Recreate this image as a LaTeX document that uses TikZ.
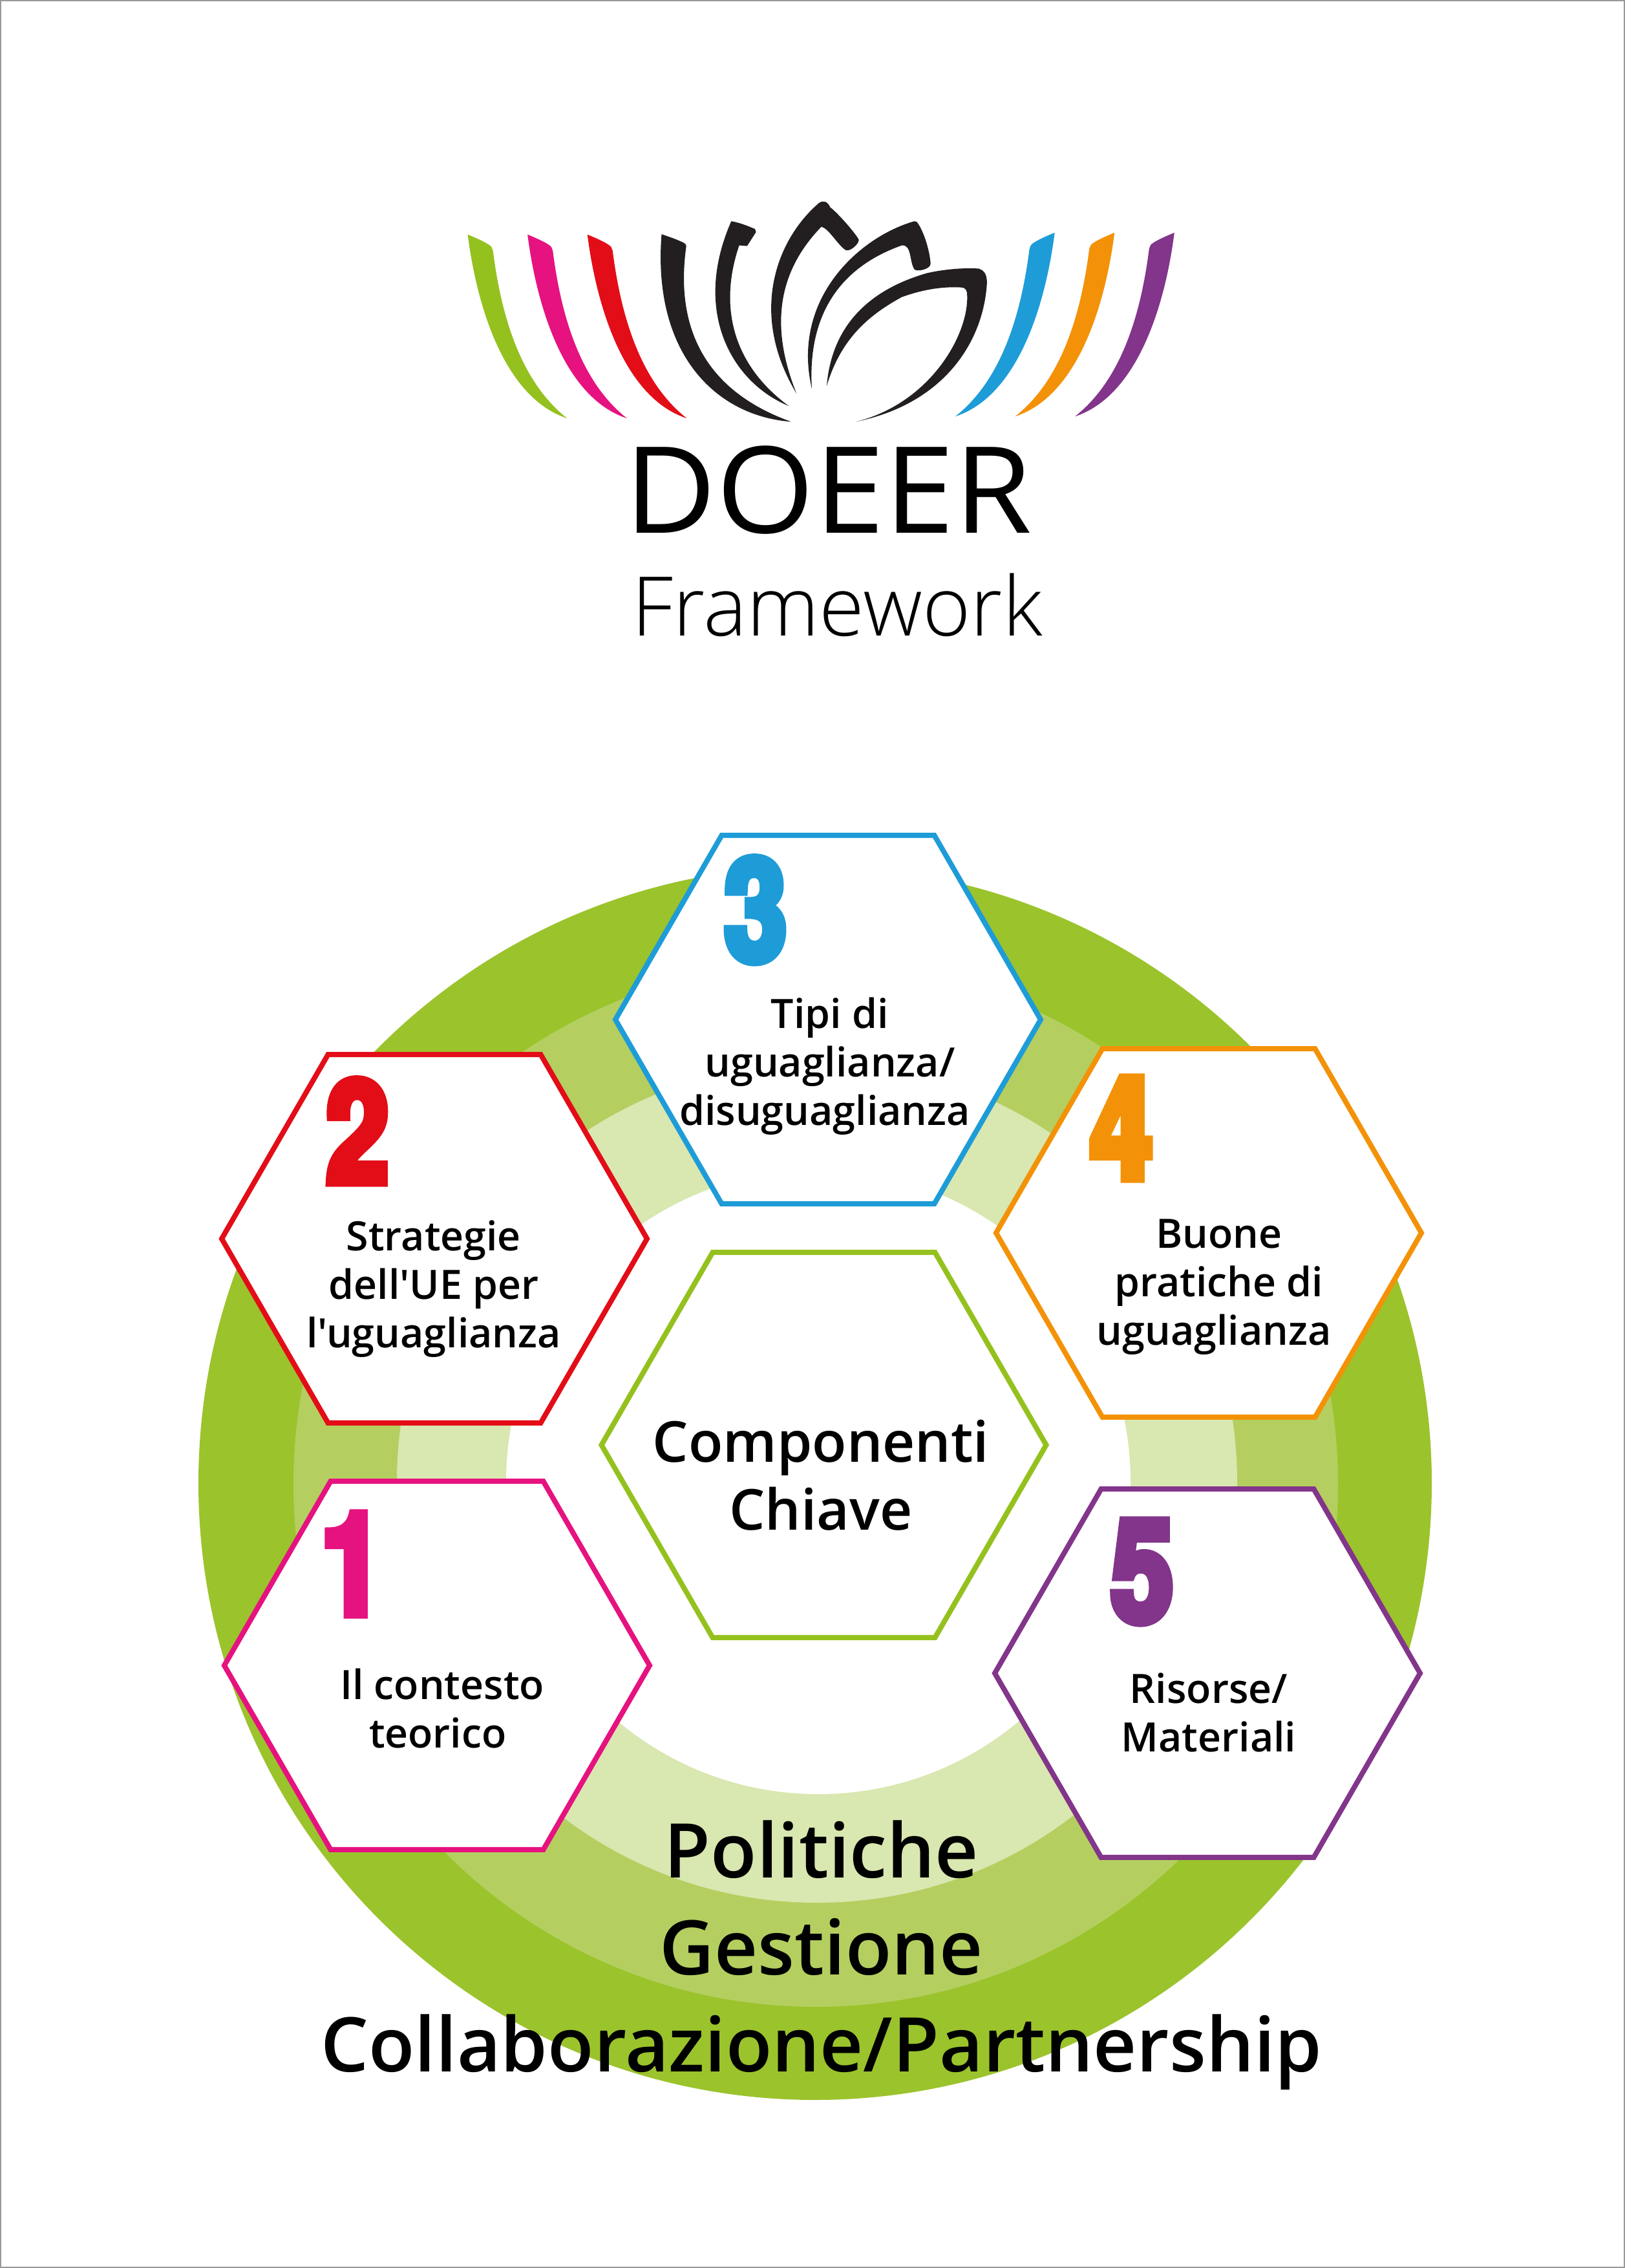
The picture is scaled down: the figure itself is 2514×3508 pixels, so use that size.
\documentclass[tikz,border=0pt]{standalone}
\usepackage{fontspec}
\usetikzlibrary{shapes.geometric}
\setmainfont{Open Sans}
\newfontfamily\semi[BoldFont={* Semibold}]{Open Sans}
\newfontfamily\lightf{Open Sans Light}
\newfontfamily\doeerf[FakeStretch=1.046]{Open Sans}
\newfontfamily\numf[FakeBold=6,FakeStretch=0.78]{TeX Gyre Heros Bold}
\definecolor{ringA}{HTML}{9BC32C}
\definecolor{ringB}{HTML}{B4CF60}
\definecolor{ringC}{HTML}{D9E7B0}
\definecolor{cgreen}{HTML}{95C11F}
\definecolor{cpink}{HTML}{E6127F}
\definecolor{cred}{HTML}{E30D18}
\definecolor{cblue}{HTML}{1E9CD8}
\definecolor{corange}{HTML}{F39208}
\definecolor{cpurple}{HTML}{82358A}
\definecolor{logoblack}{HTML}{231F20}
\tikzset{
  hexbox/.style={regular polygon,regular polygon sides=6,minimum size=329pt,inner sep=0pt,fill=white,line width=4pt},
  label/.style={anchor=base,align=center,font=\fontsize{31.3}{37.5}\selectfont\bfseries\semi},
  bignum/.style={anchor=base,inner sep=0pt,font=\fontsize{110}{110}\selectfont\numf},
  bigtext/.style={anchor=base,inner sep=0pt,align=center,font=\fontsize{58.4}{75}\selectfont\bfseries\semi},
}
\newcommand{\petalpath}{
  (57,173) .. controls (80,188) and (100,203) .. (105,213) -- (108,225)
  .. controls (125,440) and (165,650) .. (258,767)
  .. controls (130,700) and (75,400) .. (57,173) -- cycle
}
\begin{document}
\begin{tikzpicture}[x=0.5pt,y=-0.5pt]
\useasboundingbox (0,0) rectangle (2514,3508);
\fill[white] (0,0) rectangle (2514,3508);
\draw[black!40,line width=1pt] (1,1) rectangle (2513,3507);
% rings
\fill[ringA] (1261,2294) circle[radius=954];
\fill[ringB] (1262,2296) circle[radius=808];
\fill[ringC] (1264,2293) circle[radius=650];
\fill[white] (1266,2292) circle[radius=483];
% logo
\begin{scope}[shift={(680,280)},xscale=0.765,yscale=0.4785]
\foreach \dx/\c in {0/cgreen,121/cpink,242/cred}{
  \fill[\c,shift={(\dx,0)}] \petalpath;
}
\foreach \dx/\c in {0/cblue,121/corange,242/cpurple}{
  \fill[\c,shift={(1301+\dx,-6)},xscale=-1] \petalpath;
}
\fill[logoblack] (449,172) .. controls (470,183) and (490,195) .. (497,203) -- (499,210)
  .. controls (475,480) and (540,680) .. (711,778)
  .. controls (560,760) and (430,560) .. (449,172) -- cycle;
\fill[logoblack] (590,130) .. controls (610,135) and (630,150) .. (638,155) -- (640,165) -- (622,210) -- (606,208)
  .. controls (565,400) and (590,590) .. (706,727)
  .. controls (590,650) and (510,420) .. (590,130) -- cycle;
\fill[logoblack] (768,70) .. controls (680,190) and (625,430) .. (722,687)
  .. controls (670,480) and (680,300) .. (772,148)
  .. controls (785,150) and (805,205) .. (820,222)
  .. controls (828,232) and (848,205) .. (848,190)
  .. controls (840,165) and (800,95) .. (790,85)
  .. controls (785,65) and (775,62) .. (768,70) -- cycle;
\fill[logoblack] (960,130) .. controls (850,180) and (710,380) .. (753,672)
  .. controls (745,470) and (790,290) .. (935,208)
  .. controls (955,205) and (950,260) .. (960,285)
  .. controls (965,295) and (995,285) .. (993,265)
  .. controls (990,210) and (975,150) .. (965,132) -- cycle;
\fill[logoblack] (1090,283) .. controls (1105,290) and (1107,310) .. (1107,330)
  .. controls (1100,520) and (1020,720) .. (842,778)
  .. controls (990,720) and (1070,500) .. (1067,370)
  .. controls (1067,355) and (1065,345) .. (1055,344)
  .. controls (1010,340) and (970,355) .. (935,375)
  .. controls (860,440) and (810,520) .. (783,662)
  .. controls (790,530) and (830,370) .. (985,298)
  .. controls (1020,285) and (1060,280) .. (1090,283) -- cycle;
\end{scope}
\node[anchor=base,inner sep=0pt,font=\fontsize{93}{93}\selectfont\doeerf] (doeer) at (1282,824) {DOEER};
\node[anchor=base,inner sep=0pt,font=\fontsize{63.6}{63.6}\selectfont\lightf] (fw) at (1295,983) {Framework};
% hexagons
\node[hexbox,draw=cgreen,minimum size=344pt] (hc) at (1274.5,2235) {};
\node[hexbox,draw=cblue] (h3) at (1281,1577) {};
\node[hexbox,draw=cred] (h2) at (672,1916) {};
\node[hexbox,draw=corange] (h4) at (1870,1907) {};
\node[hexbox,draw=cpink] (h1) at (676,2576) {};
\node[hexbox,draw=cpurple] (h5) at (1868,2588) {};
% numbers
\node[bignum,text=cred] (n2) at (553,1829) {2};
\node[bignum,text=cblue] (n3) at (1169,1486) {3};
\node[bignum,text=corange] (n4) at (1735,1823) {4};
\node[bignum,text=cpink] (n1) at (545,2497) {1};
\node[bignum,text=cpurple] (n5) at (1767,2508) {5};
% labels
\node[label] (t3) at (1284,1740) {Tipi di\\uguaglianza/\\disuguaglianza\hspace*{8pt}};
\node[label] (t2) at (671,2084) {Strategie\\dell'UE per\\l'uguaglianza};
\node[label] (t4) at (1886,2080) {Buone\\pratiche di\\uguaglianza\hspace*{8pt}};
\node[label] (t1) at (684,2703) {Il contesto\\teorico\hspace*{6.7pt}};
\node[label] (t5) at (1870,2709) {Risorse/\\Materiali};
\node[anchor=base,align=center,inner sep=0pt,font=\fontsize{43.7}{52.5}\selectfont\bfseries\semi] (tc) at (1270,2366) {Componenti\\Chiave};
\node[bigtext] (tb) at (1271,3204) {Politiche\\Gestione\\Collaborazione/Partnership};
\end{tikzpicture}
\end{document}
